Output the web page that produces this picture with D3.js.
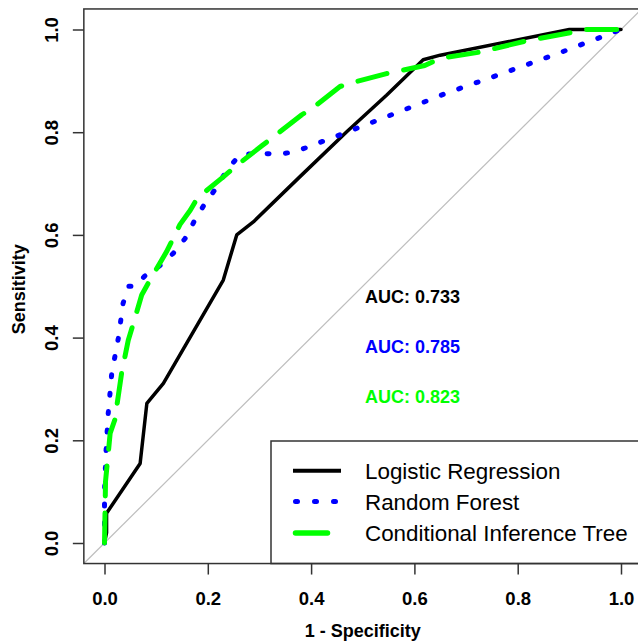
<!DOCTYPE html>
<html>
<head>
<meta charset="utf-8">
<script src="https://cdn.jsdelivr.net/npm/d3@7"></script>
<style>
	body { margin: 0; background: #fff; }
	text { font-family: "Liberation Sans", Arial, sans-serif; }
</style>
</head>
<body>
<div id="chart-area"></div>
<script>

// ROC data (1 - specificity, sensitivity)
var lrFpr = [0, 0.004, 0.004, 0.069, 0.082, 0.114, 0.23, 0.256, 0.29, 0.378, 0.469, 0.546, 0.617, 0.65, 0.9, 1];
var lrTpr = [0, 0.02, 0.058, 0.155, 0.272, 0.311, 0.512, 0.6, 0.627, 0.713, 0.801, 0.872, 0.941, 0.95, 1, 1];

var rfFpr = [0, 0, 0.003, 0.007, 0.014, 0.027, 0.036, 0.047, 0.06, 0.078, 0.107, 0.133, 0.156, 0.175, 0.195, 0.216, 0.237, 0.262, 0.30, 0.34, 0.372, 0.446, 0.556, 0.662, 0.775, 0.885, 1];
var rfTpr = [0, 0.1, 0.18, 0.25, 0.33, 0.40, 0.467, 0.5, 0.5, 0.52, 0.54, 0.564, 0.593, 0.629, 0.662, 0.691, 0.726, 0.756, 0.759, 0.757, 0.763, 0.791, 0.834, 0.876, 0.916, 0.956, 1];

var citFpr = [0, 0.002, 0.011, 0.02, 0.033, 0.046, 0.056, 0.072, 0.088, 0.12, 0.146, 0.166, 0.18, 0.23, 0.253, 0.304, 0.327, 0.382, 0.404, 0.456, 0.485, 0.546, 0.62, 0.65, 0.727, 0.817, 0.908, 0.93, 1];
var citTpr = [0, 0.12, 0.214, 0.24, 0.33, 0.395, 0.428, 0.483, 0.512, 0.567, 0.62, 0.648, 0.672, 0.713, 0.733, 0.773, 0.791, 0.834, 0.848, 0.889, 0.898, 0.914, 0.93, 0.944, 0.956, 0.978, 0.995, 1, 1];

var modelNames = ["Logistic Regression", "Random Forest", "Conditional Inference Tree"];
var aucValues = ["0.733", "0.785", "0.823"];
var modelColors = ["#000000", "#0000ff", "#00ff00"];
var tickValues = [0, 0.2, 0.4, 0.6, 0.8, 1.0];


var width = 638, height = 644;

var svg = d3.select("#chart-area").append("svg")
	.attr("width", width)
	.attr("height", height);

var x = d3.scaleLinear()
	.domain([0, 1])
	.range([104.5, 621]);

var y = d3.scaleLinear()
	.domain([0, 1])
	.range([543, 29.5]);

// plot region like R (4% padding each side)
var boxL = x(-0.04), boxR = x(1.04), boxT = y(1.04), boxB = y(-0.04);

svg.append("clipPath")
	.attr("id", "plot-clip")
	.append("rect")
	.attr("x", boxL)
	.attr("y", boxT)
	.attr("width", boxR - boxL)
	.attr("height", boxB - boxT);

var plot = svg.append("g").attr("clip-path", "url(#plot-clip)");

// reference diagonal
plot.append("line")
	.attr("x1", x(-0.04)).attr("y1", y(-0.04))
	.attr("x2", x(1.04)).attr("y2", y(1.04))
	.attr("stroke", "#bebebe")
	.attr("stroke-width", 1.2);

var line = d3.line()
	.x(function(d) { return x(d[0]); })
	.y(function(d) { return y(d[1]); });

var series = [
	{ pts: d3.zip(lrFpr, lrTpr), width: 3.5, dash: null },
	{ pts: d3.zip(rfFpr, rfTpr), width: 5, dash: "2,16.5" },
	{ pts: d3.zip(citFpr, citTpr), width: 5, dash: "30,17" }
];

// draw order: black, blue, green on top
series.forEach(function(s, i) {
	plot.append("path")
		.datum(s.pts)
		.attr("d", line)
		.attr("fill", "none")
		.attr("stroke", modelColors[i])
		.attr("stroke-width", s.width)
		.attr("stroke-linecap", "round")
		.attr("stroke-linejoin", "round")
		.attr("stroke-dasharray", s.dash);
});

// AUC labels
svg.selectAll(".auc")
	.data(aucValues)
	.enter().append("text")
	.attr("class", "auc")
	.attr("x", 365)
	.attr("y", function(d, i) { return [302.7, 353.3, 402.7][i]; })
	.attr("fill", function(d, i) { return modelColors[i]; })
	.style("font-size", "18px")
	.style("font-weight", "bold")
	.text(function(d) { return "AUC: " + d; });

// legend
var legend = svg.append("g");

legend.append("rect")
	.attr("x", 271)
	.attr("y", 441)
	.attr("width", boxR - 271)
	.attr("height", boxB - 441)
	.attr("fill", "#fff")
	.attr("stroke", "#333")
	.attr("stroke-width", 1.5);

var rowY = [470.7, 501.5, 533];

legend.selectAll(".key")
	.data(series)
	.enter().append("line")
	.attr("class", "key")
	.attr("x1", function(d, i) { return [293, 295.5, 295.5][i]; })
	.attr("x2", function(d, i) { return [341, 339, 327.5][i]; })
	.attr("y1", function(d, i) { return rowY[i]; })
	.attr("y2", function(d, i) { return rowY[i]; })
	.attr("stroke", function(d, i) { return modelColors[i]; })
	.attr("stroke-width", function(d, i) { return [4, 5, 5.5][i]; })
	.attr("stroke-linecap", function(d, i) { return i === 0 ? "butt" : "round"; })
	.attr("stroke-dasharray", function(d, i) { return i === 1 ? "2,17" : null; });

legend.selectAll(".label")
	.data(modelNames)
	.enter().append("text")
	.attr("class", "label")
	.attr("x", 365)
	.attr("y", function(d, i) { return rowY[i]; })
	.attr("dy", "0.36em")
	.style("font-size", "22.4px")
	.text(function(d) { return d; });

// box
svg.append("rect")
	.attr("x", boxL)
	.attr("y", boxT)
	.attr("width", boxR - boxL)
	.attr("height", boxB - boxT)
	.attr("fill", "none")
	.attr("stroke", "#333")
	.attr("stroke-width", 1.5);

// axes
var fmt = d3.format(".1f");

var xAxis = d3.axisBottom(x)
	.tickValues(tickValues)
	.tickFormat(fmt)
	.tickSize(11);

var yAxis = d3.axisLeft(y)
	.tickValues(tickValues)
	.tickFormat(fmt)
	.tickSize(11);

var gx = svg.append("g")
	.attr("transform", "translate(0," + boxB + ")")
	.call(xAxis);

var gy = svg.append("g")
	.attr("transform", "translate(" + boxL + ",0)")
	.call(yAxis);

[gx, gy].forEach(function(g) {
	g.select(".domain").remove();
	g.selectAll(".tick line").attr("stroke", "#333").attr("stroke-width", 1.5);
	g.selectAll(".tick text")
		.attr("fill", "#000")
		.style("font-size", "18.5px")
		.style("font-weight", "bold")
		.style("font-family", "'Liberation Sans', Arial, sans-serif");
});

gx.selectAll(".tick text")
	.attr("y", 41.5)
	.attr("dy", null);

gy.selectAll(".tick text")
	.attr("x", 0)
	.attr("dy", null)
	.attr("text-anchor", "middle")
	.attr("transform", "translate(-26,0) rotate(-90)");

// axis titles
svg.append("text")
	.attr("x", (boxL + boxR) / 2)
	.attr("y", 636.5)
	.attr("text-anchor", "middle")
	.style("font-size", "18px")
	.style("font-weight", "bold")
	.text("1 - Specificity");

svg.append("text")
	.attr("transform", "translate(25," + ((boxT + boxB) / 2 + 3) + ") rotate(-90)")
	.attr("text-anchor", "middle")
	.style("font-size", "18px")
	.style("font-weight", "bold")
	.text("Sensitivity");

</script>
</body>
</html>
